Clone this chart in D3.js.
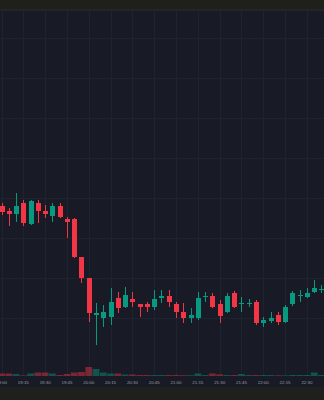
<!DOCTYPE html>
<html><head><meta charset="utf-8">
<script src="https://cdn.jsdelivr.net/npm/d3@7"></script>
<style>html,body{margin:0;padding:0;background:#181b26;overflow:hidden}svg{display:block}</style>
</head><body>
<svg id="c" width="324" height="400"></svg>
<script>
// 5-minute candles starting 19:00
const times = ["19:00","19:05","19:10","19:15","19:20","19:25","19:30","19:35","19:40","19:45","19:50","19:55",
"20:00","20:05","20:10","20:15","20:20","20:25","20:30","20:35","20:40","20:45","20:50","20:55",
"21:00","21:05","21:10","21:15","21:20","21:25","21:30","21:35","21:40","21:45","21:50","21:55",
"22:00","22:05","22:10","22:15","22:20","22:25","22:30","22:35","22:40"];
const open  = [138,136.75,136,138.75,133.5,138.75,136.75,135.5,138,134.75,134.75,125.25,
120,110.75,110,110.25,115,112.75,114.75,113.5,113.5,112.75,115,115.5,
113.5,111.5,110,110,115.25,115.5,113.5,111.5,116.25,113.5,113.5,114,
108.75,109.25,110.75,109,113.5,115.5,115.25,116.5,117];
const high  = [138.75,137.5,141.25,139.5,139.5,139.5,138.25,138.75,138.75,135.25,135,125.25,
120,113.75,113.25,117.5,116.5,117.75,116.5,113.5,114,117,117,117,
114,113.75,112.5,116.5,116.5,116.25,114.5,116.25,116.75,115.25,114.75,114.5,
110.25,111.5,111.5,113.25,116.75,117,117.5,119.5,118.25];
const low   = [135.75,133,134,133,133.25,133.75,135,134,135,130,125,118.75,
109,103.25,107.75,108.25,111.25,112.5,112.75,110.25,111.5,112,113.75,112.75,
110,108.75,108.75,109.5,114,112.5,108.75,111.25,112.5,111.5,112.75,108.25,
107.75,108.75,108.25,108.75,113,114,115,116.25,116.25];
const close = [136.5,136,138,133.75,139.25,136.75,136,138,135.25,134,125.25,120,
111.25,111.25,111.5,114,112.5,115.75,114,112.75,112.75,114.75,115.5,114,
111.5,110,110.75,115,115.5,112.75,110.5,115.5,112.75,113.75,113.75,108.75,
109.5,110,109,112.75,116.25,115.75,116.25,117.5,117.25];
const volume = [250,250,200,60,250,350,350,250,100,200,350,400,
900,700,350,250,250,150,150,100,100,100,100,100,
100,80,80,250,100,250,170,100,100,200,100,100,
100,100,70,70,100,100,100,350,100];
const priceTicks = [110,120,130,140,150,160,170,180];

const W = 324, H = 400;
const svg = d3.select("#c");
const parse = d3.timeParse("%H:%M");
const data = times.map((t,i)=>({t:parse(t),o:open[i],h:high[i],l:low[i],c:close[i],v:volume[i]}));

const x = d3.scaleTime().domain([parse("19:00"), parse("22:30")]).range([1.5, 306.9]);
const y = d3.scaleLinear().domain([100,180]).range([358,38]);
const yv = d3.scaleLinear().domain([0,1200]).range([376,364]);
const bw = 5;
const up = "#089981", down = "#f23645";

// backgrounds
svg.append("rect").attr("width",W).attr("height",H).attr("fill","#181b26");
svg.append("rect").attr("width",W).attr("height",10).attr("fill","#1f201c");
svg.append("rect").attr("y",9.5).attr("width",W).attr("height",1.2).attr("fill","#29282f");
svg.append("rect").attr("y",387).attr("width",W).attr("height",13).attr("fill","#1f1f1d");

// grid
const g = svg.append("g");
g.selectAll("line.h").data(priceTicks).join("line")
  .attr("x1",0).attr("x2",W).attr("y1",d=>Math.round(y(d))+0.5).attr("y2",d=>Math.round(y(d))+0.5)
  .attr("stroke","#1f2330").attr("stroke-width",1);
const tticks = x.ticks(d3.timeMinute.every(15));
g.selectAll("line.v").data(tticks).join("line")
  .attr("x1",d=>Math.round(x(d))+0.5).attr("x2",d=>Math.round(x(d))+0.5).attr("y1",11).attr("y2",376)
  .attr("stroke","#1f2330").attr("stroke-width",1);

// volume
svg.append("g").selectAll("rect").data(data).join("rect")
  .attr("x",d=>x(d.t)-3.4).attr("width",6.8)
  .attr("y",d=>yv(d.v)).attr("height",d=>376-yv(d.v))
  .attr("fill",d=>d.c>=d.o?up:down).attr("opacity",0.45);

// candles
const cg = svg.append("g");
cg.selectAll("line").data(data).join("line")
  .attr("x1",d=>Math.round(x(d.t))+0.5).attr("x2",d=>Math.round(x(d.t))+0.5)
  .attr("y1",d=>y(d.h)).attr("y2",d=>y(d.l))
  .attr("stroke",d=>d.c>=d.o?up:down).attr("stroke-width",1);
cg.selectAll("rect").data(data).join("rect")
  .attr("x",d=>Math.round(x(d.t))+0.5-bw/2).attr("width",bw)
  .attr("y",d=>y(Math.max(d.o,d.c))).attr("height",d=>Math.max(1,Math.abs(y(d.o)-y(d.c))))
  .attr("fill",d=>d.c>=d.o?up:down);

// time axis
const fmt = d3.timeFormat("%H:%M");
svg.append("g").selectAll("text").data(tticks).join("text")
  .attr("x",d=>x(d)).attr("y",383.5).attr("text-anchor","middle")
  .attr("font-family","Liberation Sans, Arial, sans-serif").attr("font-size",4.4)
  .attr("fill","#9a9ca5").text(d=>fmt(d));
</script>
</body></html>
